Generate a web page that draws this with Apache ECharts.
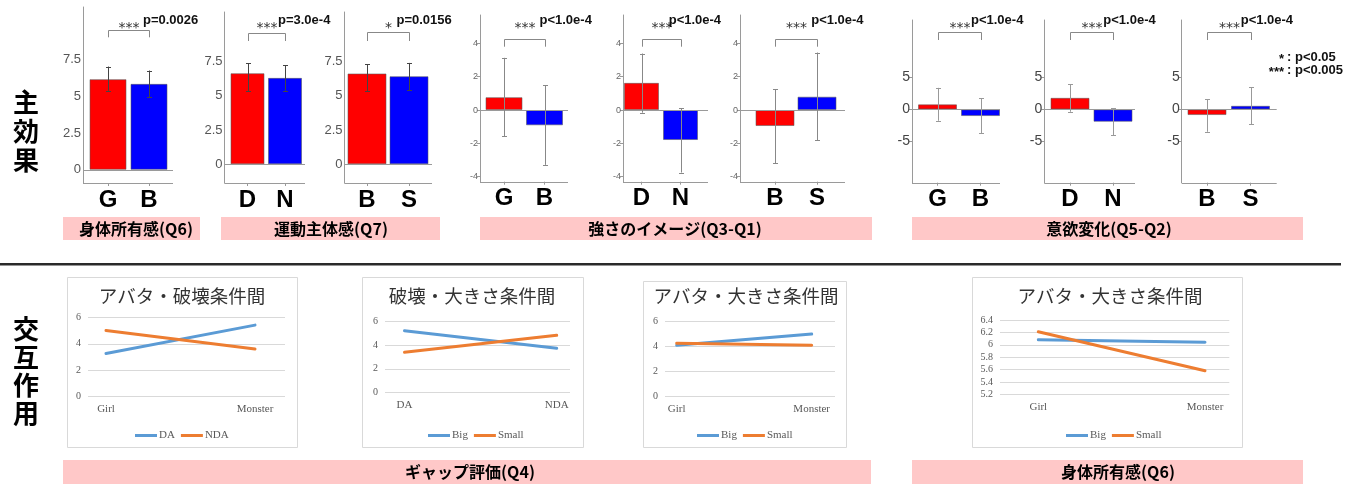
<!DOCTYPE html>
<html>
<head>
<meta charset="utf-8">
<script src="https://cdn.jsdelivr.net/npm/echarts@6/dist/echarts.min.js"></script>
<style>
html,body{margin:0;padding:0;background:#fff;}
#c{width:1361px;height:484px;}
</style>
</head>
<body>
<div id="c"></div>
<script>
// ---------- main-effect bar charts ----------
const mainCats = [['G','B'],['D','N'],['B','S'],['G','B'],['D','N'],['B','S'],['G','B'],['D','N'],['B','S']];
const mainMeans = [[6.18,5.86],[6.64,6.30],[6.62,6.42],[0.77,-0.92],[1.63,-1.80],[-0.96,0.80],[0.78,-1.04],[1.80,-1.92],[-0.88,0.56]];
const errLow  = [[5.39,4.95],[5.35,5.35],[5.35,5.40],[-1.56,-3.29],[-0.16,-3.75],[-3.19,-1.80],[-1.77,-3.73],[-0.37,-3.99],[-3.48,-2.28]];
const errHigh = [[7.04,6.77],[7.35,7.23],[7.30,7.39],[3.13,1.50],[3.39,0.10],[1.26,3.45],[3.35,1.71],[3.88,0.15],[1.60,3.42]];
const sigStars = ['***','***','*','***','***','***','***','***','***'];
const pValues = ['p=0.0026','p=3.0e-4','p=0.0156','p<1.0e-4','p<1.0e-4','p<1.0e-4','p<1.0e-4','p<1.0e-4','p<1.0e-4'];
const yTicksQ6Q7 = [0, 2.5, 5, 7.5];
const yTicksQ3 = [-4, -2, 0, 2, 4];
const yTicksQ5 = [-5, 0, 5];
const groupLabels = ['身体所有感(Q6)','運動主体感(Q7)','強さのイメージ(Q3-Q1)','意欲変化(Q5-Q2)'];
const bottomLabels = ['ギャップ評価(Q4)','身体所有感(Q6)'];
const sigLegendStars = ['*','***'];
const sigLegendText = [': p<0.05', ': p<0.005'];
const rowLabels = ['主効果','交互作用'];

// ---------- interaction line charts ----------
const lineTitles = ['アバタ・破壊条件間','破壊・大きさ条件間','アバタ・大きさ条件間','アバタ・大きさ条件間'];
const lineCats = [['Girl','Monster'],['DA','NDA'],['Girl','Monster'],['Girl','Monster']];
const lineNames = [['DA','NDA'],['Big','Small'],['Big','Small'],['Big','Small']];
const lineFirst  = [[3.27,5.41],[5.23,3.74],[4.06,4.96],[6.08,6.04]];
const lineSecond = [[5.00,3.60],[3.40,4.84],[4.22,4.06],[6.21,5.58]];
const lineYMin = [0, 0, 0, 5.2];
const lineYMax = [6, 6, 6, 6.4];
const lineYStep = [2, 2, 2, 0.2];

// ---------- layout (pixels) ----------
const RED = '#ff0000', BLUE = '#0000ff';
const topLayout = [
  {ax:83,     end:173,    c:[108,149],      top:7,  bot:183,   min:-0.9,  max:11.1, bw:37, ticks:yTicksQ6Q7, fs:13, lc:'#555', tl:0, ec:'#444', by:30,   bl:37.3, po:14},
  {ax:224.5,  end:305,    c:[247.5,285],    top:12, bot:183,   min:-1.36, max:11.1, bw:34, ticks:yTicksQ6Q7, fs:13, lc:'#555', tl:0, ec:'#444', by:33.3, bl:41,   po:11},
  {ax:344.5,  end:432,    c:[367,409],      top:12, bot:183,   min:-1.36, max:11.1, bw:39, ticks:yTicksQ6Q7, fs:13, lc:'#555', tl:0, ec:'#444', by:32.3, bl:41,   po:8},
  {ax:480,    end:568,    c:[504,544.5],    top:15, bot:181.7, min:-4.3,  max:5.7,  bw:37, ticks:yTicksQ3,   fs:9,  lc:'#666', tl:3, ec:'#888', by:39.3, bl:46.7, po:14.5},
  {ax:623,    end:708,    c:[641.5,680.5],  top:15, bot:181.7, min:-4.3,  max:5.7,  bw:35, ticks:yTicksQ3,   fs:9,  lc:'#666', tl:3, ec:'#888', by:39.3, bl:46.7, po:6.7},
  {ax:740,    end:845,    c:[775,817],      top:15, bot:181.7, min:-4.3,  max:5.7,  bw:39, ticks:yTicksQ3,   fs:9,  lc:'#666', tl:3, ec:'#888', by:39.3, bl:46.7, po:14.7},
  {ax:912,    end:1000,   c:[937.5,980.5],  top:20, bot:182.7, min:-11.4, max:13.9, bw:39, ticks:yTicksQ5,   fs:14, lc:'#444', tl:3, ec:'#999', by:32.3, bl:40,   po:11},
  {ax:1044.3, end:1135,   c:[1070,1113],    top:20, bot:182.7, min:-11.4, max:13.9, bw:39, ticks:yTicksQ5,   fs:14, lc:'#444', tl:3, ec:'#999', by:32.3, bl:40,   po:11.3},
  {ax:1181.7, end:1276.7, c:[1207,1250.5],  top:20, bot:182.7, min:-11.4, max:13.9, bw:39, ticks:yTicksQ5,   fs:14, lc:'#444', tl:3, ec:'#999', by:32.3, bl:40,   po:11.2}
];
const lineLayout = [
  {box:[67,277,230,170],   title:[182,296], grid:[88,317.3,197,79.4],  x0:106,   x1:255,   legend:130},
  {box:[361.5,277,221,170],title:[472,296], grid:[385,321.7,185,70.6], x0:404.5, x1:556.7, legend:423},
  {box:[643,281,203,166],  title:[746,296], grid:[665,321,170,75.3],   x0:676.7, x1:811.7, legend:692},
  {box:[972,277,270,170],  title:[1110,296],grid:[1000,320,229.3,74.3],x0:1038.3,x1:1205,  legend:1061}
];
const groupBoxes = [[63,217,137,23,136],[221,217,219,23,331],[480,217,392,23,675],[912,217,391,23,1109]];
const bottomBoxes = [[63,460,808,24,470],[912,460,391,24,1118]];
const LINE_BLUE = '#5b9bd5', LINE_ORANGE = '#ed7d31';
const SANS = '"Liberation Sans", Arial, sans-serif';
const CJK = '"Noto Sans CJK JP", sans-serif';
const SERIF = '"Liberation Serif", "Times New Roman", serif';

const grids = [], xAxes = [], yAxes = [], series = [], legends = [];

// crisp 1px line helper
const px = v => Math.round(v) + 0.5;

topLayout.forEach((L, i) => {
  const band = L.c[1] - L.c[0];
  const left = L.c[0] - band / 2;
  grids.push({left: left, top: L.top, width: band * 2, height: L.bot - L.top});
  xAxes.push({
    gridIndex: i, type: 'category', data: mainCats[i],
    axisLine: {show: false, onZero: false},
    axisTick: {show: true, alignWithLabel: true, length: 3, lineStyle: {color: '#999'}},
    axisLabel: {fontSize: 24, fontWeight: 'bold', color: '#000', margin: 5, fontFamily: SANS},
    splitLine: {show: false}
  });
  yAxes.push({
    gridIndex: i, type: 'value', min: L.min, max: L.max, offset: left - L.ax,
    axisLine: {show: true, lineStyle: {color: '#9a9a9a', width: 1}},
    axisTick: {show: L.tl > 0, length: L.tl, customValues: L.ticks, lineStyle: {color: '#999'}},
    axisLabel: {customValues: L.ticks, fontSize: L.fs, color: L.lc, margin: 2, fontFamily: SANS},
    splitLine: {show: false}
  });
  // zero line and bottom axis line
  series.push({
    type: 'custom', xAxisIndex: i, yAxisIndex: i, silent: true, clip: false, z: 3,
    data: [[0, 0]],
    renderItem: (params, api) => {
      const cs = params.coordSys;
      const y0 = px(api.coord([0, 0])[1]);
      const yb = px(cs.y + cs.height);
      const st = {stroke: '#9a9a9a', lineWidth: 1};
      return {type: 'group', children: [
        {type: 'line', shape: {x1: L.ax, y1: y0, x2: L.end, y2: y0}, style: st},
        {type: 'line', shape: {x1: L.ax, y1: yb, x2: L.end, y2: yb}, style: st}
      ]};
    }
  });
  series.push({
    type: 'bar', xAxisIndex: i, yAxisIndex: i, barWidth: L.bw, silent: true, z: 2,
    itemStyle: {borderColor: 'rgba(90,90,90,0.55)', borderWidth: 1},
    data: mainMeans[i].map((v, k) => ({value: v, itemStyle: {color: k ? BLUE : RED}}))
  });
  // error bars
  series.push({
    type: 'custom', xAxisIndex: i, yAxisIndex: i, silent: true, z: 4,
    encode: {x: 0, y: [1, 2]},
    data: errLow[i].map((lo, k) => [k, lo, errHigh[i][k]]),
    renderItem: (params, api) => {
      const a = api.coord([api.value(0), api.value(1)]);
      const b = api.coord([api.value(0), api.value(2)]);
      const x = px(a[0]);
      const st = {stroke: L.ec, lineWidth: 1};
      return {type: 'group', children: [
        {type: 'line', shape: {x1: x, y1: a[1], x2: x, y2: b[1]}, style: st},
        {type: 'line', shape: {x1: x - 2.5, y1: px(a[1]), x2: x + 2.5, y2: px(a[1])}, style: st},
        {type: 'line', shape: {x1: x - 2.5, y1: px(b[1]), x2: x + 2.5, y2: px(b[1])}, style: st}
      ]};
    }
  });
  // significance bracket with stars and p value
  series.push({
    type: 'custom', xAxisIndex: i, yAxisIndex: i, silent: true, clip: false, z: 5,
    data: [[0, 0]],
    renderItem: (params, api) => {
      const x1 = px(api.coord([0, 0])[0]);
      const x2 = px(api.coord([1, 0])[0]);
      const mid = (x1 + x2) / 2;
      const by = px(L.by);
      return {type: 'group', children: [
        {type: 'polyline', shape: {points: [[x1, L.bl], [x1, by], [x2, by], [x2, L.bl]]},
          style: {stroke: '#888', fill: null, lineWidth: 1}},
        {type: 'text', style: {text: sigStars[i], x: mid, y: 28, align: 'center', textAlign: 'center',
          verticalAlign: 'middle', textVerticalAlign: 'middle', fontSize: 14, fontFamily: '"DejaVu Sans", sans-serif', fill: '#333'}},
        {type: 'text', style: {text: pValues[i], x: mid + L.po, y: 20, align: 'left', textAlign: 'left',
          verticalAlign: 'middle', textVerticalAlign: 'middle', fontSize: 13, fontWeight: 'bold', fontFamily: SANS, fill: '#111'}}
      ]};
    }
  });
});

// interaction plots
lineLayout.forEach((L, j) => {
  const gi = topLayout.length + j;
  const [gl, gt, gw, gh] = L.grid;
  const unit = L.x1 - L.x0;
  grids.push({left: gl, top: gt, width: gw, height: gh});
  xAxes.push({
    gridIndex: gi, type: 'value',
    min: -(L.x0 - gl) / unit, max: 1 + (gl + gw - L.x1) / unit,
    axisLine: {show: false}, axisTick: {show: false}, splitLine: {show: false},
    axisLabel: {customValues: [0, 1], formatter: v => lineCats[j][Math.round(v)],
      fontSize: 11, color: '#595959', fontFamily: SERIF, margin: 7}
  });
  yAxes.push({
    gridIndex: gi, type: 'value', min: lineYMin[j], max: lineYMax[j], interval: lineYStep[j],
    axisLine: {show: false}, axisTick: {show: false},
    splitLine: {show: true, lineStyle: {color: '#d9d9d9', width: 1}},
    axisLabel: {fontSize: 10, color: '#595959', fontFamily: SERIF, margin: 7}
  });
  const pairs = [[lineNames[j][0], lineFirst[j], LINE_BLUE], [lineNames[j][1], lineSecond[j], LINE_ORANGE]];
  pairs.forEach(([name, vals, color]) => {
    series.push({
      type: 'line', name: name, xAxisIndex: gi, yAxisIndex: gi, silent: true,
      showSymbol: false, symbol: 'none', color: color,
      lineStyle: {color: color, width: 3, cap: 'round'},
      data: vals.map((v, k) => [k, v])
    });
  });
  legends.push({
    left: L.legend, top: 425, icon: 'rect', itemWidth: 22, itemHeight: 3, itemGap: 6,
    selectedMode: false, data: lineNames[j],
    textStyle: {fontSize: 11, color: '#595959', fontFamily: SERIF, padding: [0, 0, 0, -3]}
  });
});

// static decoration: boxes, captions, separator
const graphic = [];
lineLayout.forEach((L, j) => {
  const [x, y, w, h] = L.box;
  graphic.push({type: 'rect', z: -10, shape: {x: px(x), y: px(y), width: w, height: h},
    style: {fill: '#fff', stroke: '#d9d9d9', lineWidth: 1}});
  graphic.push({type: 'text', z: 10, style: {text: lineTitles[j], x: L.title[0], y: L.title[1],
    align: 'center', verticalAlign: 'middle', textAlign: 'center', textVerticalAlign: 'middle',
    fontSize: 18.5, fontFamily: CJK, fill: '#333'}});
});
groupBoxes.forEach((b, k) => {
  graphic.push({type: 'rect', z: -10, shape: {x: b[0], y: b[1], width: b[2], height: b[3]}, style: {fill: '#ffc8c8'}});
  graphic.push({type: 'text', z: 10, style: {text: groupLabels[k], x: b[4], y: b[1] + b[3] / 2 + 0.5,
    align: 'center', verticalAlign: 'middle', textAlign: 'center', textVerticalAlign: 'middle',
    fontSize: 16, fontWeight: 'bold', fontFamily: CJK, fill: '#000'}});
});
bottomBoxes.forEach((b, k) => {
  graphic.push({type: 'rect', z: -10, shape: {x: b[0], y: b[1], width: b[2], height: b[3]}, style: {fill: '#ffc8c8'}});
  graphic.push({type: 'text', z: 10, style: {text: bottomLabels[k], x: b[4], y: b[1] + 12,
    align: 'center', verticalAlign: 'middle', textAlign: 'center', textVerticalAlign: 'middle',
    fontSize: 16, fontWeight: 'bold', fontFamily: CJK, fill: '#000'}});
});
graphic.push({type: 'rect', z: 10, shape: {x: 0, y: 263, width: 1341, height: 2.5}, style: {fill: '#2a2a2a'}});
[[131, 29], [371, 28]].forEach(([cy, lh], k) => {
  graphic.push({type: 'text', z: 10, style: {text: rowLabels[k].split('').join('\n'), x: 26, y: cy,
    align: 'center', verticalAlign: 'middle', textAlign: 'center', textVerticalAlign: 'middle',
    lineHeight: lh, fontSize: 26, fontWeight: 'bold', fontFamily: CJK, fill: '#000'}});
});
sigLegendStars.forEach((s, k) => {
  const y = 57.7 + k * 13;
  graphic.push({type: 'text', z: 10, style: {text: s, x: 1284, y: y + 2, align: 'right', textAlign: 'right',
    verticalAlign: 'middle', textVerticalAlign: 'middle', fontSize: 13, fontWeight: 'bold', fontFamily: SANS, fill: '#111'}});
  graphic.push({type: 'text', z: 10, style: {text: sigLegendText[k], x: 1287, y: y, align: 'left', textAlign: 'left',
    verticalAlign: 'middle', textVerticalAlign: 'middle', fontSize: 13, fontWeight: 'bold', fontFamily: SANS, fill: '#111'}});
});

const chart = echarts.init(document.getElementById('c'), null, {renderer: 'canvas', width: 1361, height: 484});
chart.setOption({
  animation: false,
  backgroundColor: '#fff',
  grid: grids,
  xAxis: xAxes,
  yAxis: yAxes,
  legend: legends,
  series: series,
  graphic: graphic
});
</script>
</body>
</html>
